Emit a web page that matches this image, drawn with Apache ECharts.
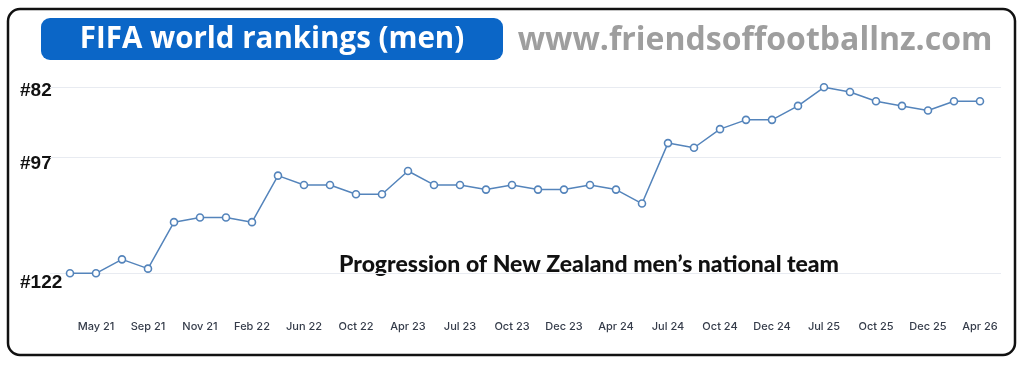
<!DOCTYPE html>
<html>
<head>
<meta charset="utf-8">
<script src="https://cdn.jsdelivr.net/npm/echarts@6/dist/echarts.min.js"></script>
<style>
html,body{margin:0;padding:0;background:#fff;}
#chart{width:1024px;height:367px;}
</style>
</head>
<body>
<div id="chart"></div>
<script>
// Ranking release dates (category per point)
const dates = ["Apr 21","May 21","Aug 21","Sep 21","Oct 21","Nov 21","Dec 21","Feb 22","Mar 22","Jun 22",
  "Aug 22","Oct 22","Dec 22","Apr 23","Jun 23","Jul 23","Sep 23","Oct 23","Nov 23","Dec 23",
  "Feb 24","Apr 24","Jun 24","Jul 24","Sep 24","Oct 24","Nov 24","Dec 24","Apr 25","Jul 25",
  "Sep 25","Oct 25","Nov 25","Dec 25","Jan 26","Apr 26"];
// FIFA rank of New Zealand at each release
const ranks = [122,122,119,121,111,110,110,111,101,103,
  103,105,105,100,103,103,104,103,104,104,
  103,104,107,94,95,91,89,89,86,82,
  83,85,86,87,85,85];
// Labelled dates on the x axis (indices into dates)
const xLabelIdx = [1,3,5,7,9,11,13,15,17,19,21,23,25,27,29,31,33,35];
// Labelled ranks on the y axis
const yTicks = [82,97,122];

const chart = echarts.init(document.getElementById('chart'), null, {renderer:'canvas'});
const seriesData = ranks.map((r,i)=>[i,r]);
const yFont = '"Liberation Sans", Arial, sans-serif';
const yRich = {
  a:{fontFamily:yFont,fontWeight:'bold',fontSize:19,color:'#111',padding:[6,0,0,0]},
  b:{fontFamily:yFont,fontWeight:'bold',fontSize:19,color:'#111',padding:[14,0,0,0]},
  c:{fontFamily:yFont,fontWeight:'bold',fontSize:19,color:'#111',padding:[18,0,0,0]}
};
const option = {
  backgroundColor:'#ffffff',
  animation:false,
  grid:{left:50,right:23,top:68.7,bottom:56.5,containLabel:false},
  xAxis:{
    type:'value',
    min:-0.769, max:35.808,
    axisLine:{show:false}, axisTick:{show:false}, splitLine:{show:false},
    axisLabel:{
      customValues:xLabelIdx,
      formatter:v=>dates[Math.round(v)],
      color:'#353c4a', fontSize:11, fontFamily:'Inter, sans-serif', fontWeight:500, margin:11
    }
  },
  yAxis:{
    type:'value', inverse:true, min:78, max:130,
    axisLine:{show:false}, axisTick:{show:false}, splitLine:{show:false},
    axisLabel:{
      customValues:yTicks,
      align:'left', margin:30,
      formatter:v=>{const k=['a','b','c'][yTicks.indexOf(v)]||'a'; return '{'+k+'|#'+v+'}';},
      rich:yRich
    }
  },
  series:[{
    type:'line',
    data:seriesData,
    symbol:'circle', symbolSize:7,
    lineStyle:{color:'#5484bb',width:1.5},
    itemStyle:{color:'#ffffff',borderColor:'#5484bb',borderWidth:1.6},
    z:3,
    markLine:{
      silent:true, symbol:'none', z:1,
      label:{show:false},
      lineStyle:{color:'#e8ebf1',width:1.2,type:'solid'},
      data:yTicks.map(v=>({yAxis:v}))
    }
  }],
  graphic:[
    {type:'rect',shape:{x:8,y:9,width:1007,height:346,r:12},style:{fill:'none',stroke:'#111',lineWidth:2.5},z:0,silent:true},
    {type:'rect',shape:{x:41,y:18,width:462,height:42,r:9},style:{fill:'#0b66c7'},silent:true},
    {type:'text',x:272,y:40,style:{text:'FIFA world rankings (men)',fill:'#ffffff',font:'bold 29.5px "Open Sans", sans-serif',textAlign:'center',textVerticalAlign:'middle'},silent:true},
    {type:'text',x:755,y:41,style:{text:'www.friendsoffootballnz.com',fill:'#9e9e9e',font:'bold 32px "Open Sans", sans-serif',textAlign:'center',textVerticalAlign:'middle'},silent:true},
    {type:'text',x:589,y:265,style:{text:'Progression of New Zealand men\u2019s national team',fill:'#111',font:'900 23px Lato, sans-serif',textAlign:'center',textVerticalAlign:'middle'},silent:true}
  ]
};
chart.setOption(option);
</script>
</body>
</html>
